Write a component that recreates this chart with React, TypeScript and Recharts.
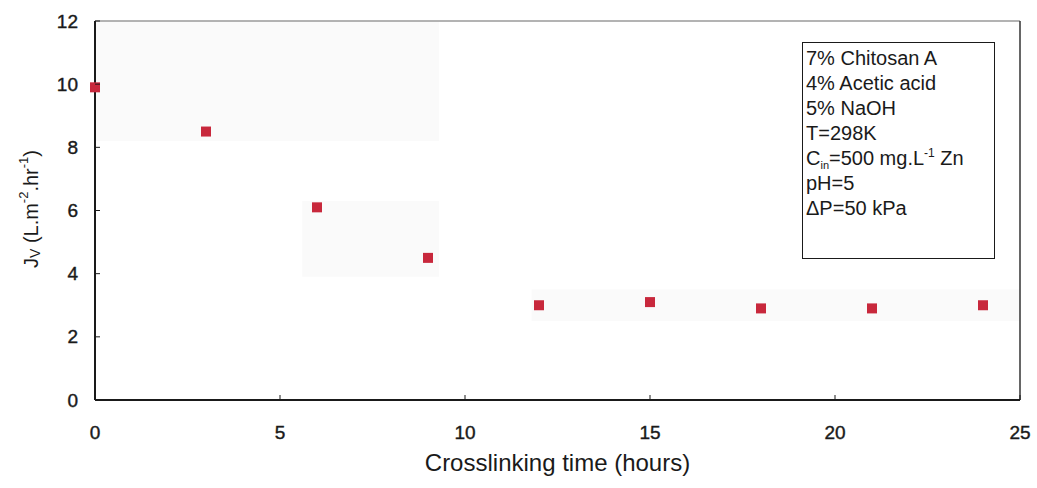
import { ScatterChart, Scatter, XAxis, YAxis, ReferenceLine, ReferenceArea } from 'recharts';

const hours = [0, 3, 6, 9, 12, 15, 18, 21, 24];
const flux = [9.9, 8.5, 6.1, 4.5, 3.0, 3.1, 2.9, 2.9, 3.0];
const xTicks = [0, 5, 10, 15, 20, 25];
const yTicks = [0, 2, 4, 6, 8, 10, 12];
const conditions = [
  '7% Chitosan A',
  '4% Acetic acid',
  '5% NaOH',
  'T=298K',
  'C_in=500 mg.L^-1 Zn',
  'pH=5',
  'ΔP=50 kPa',
];

const data = hours.map((h, i) => ({ h, jv: flux[i] }));

const font = '"Liberation Sans", Arial, sans-serif';
const ink = '#1a1a1a';

// splits "C_in" / "L^-1" into sub and superscript pieces without growing the line box
function richLine(s: string) {
  const parts = s.split(/(_\w+|\^-?\d+)/).filter(Boolean);
  return parts.map((p, i) => {
    if (p.startsWith('_'))
      return <span key={i} style={{ fontSize: 11, position: 'relative', top: 4, lineHeight: 0 }}>{p.slice(1)}</span>;
    if (p.startsWith('^'))
      return <span key={i} style={{ fontSize: 12, position: 'relative', top: -8, lineHeight: 0 }}>{p.slice(1)}</span>;
    return <span key={i}>{p}</span>;
  });
}

const YTick = (props: any) => {
  const { x, y, payload } = props;
  return (
    <g>
      <line x1={x + 17} x2={x + 22} y1={y} y2={y} stroke={ink} strokeWidth={1} />
      <text x={x} y={y} textAnchor="end" dominantBaseline="central" fill={ink} stroke={ink} strokeWidth={0.4} fontSize={19} fontFamily={font}>
        {payload.value}
      </text>
    </g>
  );
};

const XTick = (props: any) => {
  const { x, y, payload } = props;
  return (
    <g>
      <line x1={x} x2={x} y1={y - 26} y2={y - 31} stroke={ink} strokeWidth={1} />
      <text x={x} y={y} dy="0.71em" textAnchor="middle" fill={ink} stroke={ink} strokeWidth={0.4} fontSize={19} fontFamily={font}>
        {payload.value}
      </text>
    </g>
  );
};

const Square = (props: any) => {
  const { cx, cy } = props;
  return <rect x={cx - 5} y={cy - 5} width={10} height={10} fill="#c8283c" />;
};

const YLabel = () => (
  <text
    x={31}
    y={209}
    transform="rotate(-90, 31, 209)"
    textAnchor="middle"
    dominantBaseline="central"
    fill={ink}
    fontSize={20}
    fontFamily={font}
  >
    J
    <tspan fontSize={14} dy={4}>V</tspan>
    <tspan dy={-4}> (L.m</tspan>
    <tspan fontSize={13} dy={-8}>-2</tspan>
    <tspan dy={8}>.hr</tspan>
    <tspan fontSize={13} dy={-8}>-1</tspan>
    <tspan dy={8}>)</tspan>
  </text>
);

export default function App() {
  return (
    <div style={{ position: 'absolute', left: 0, top: 0, width: 1037, height: 488, background: '#fff' }}>
      <ScatterChart width={1037} height={488} margin={{ top: 21, right: 17, bottom: 48, left: 35 }}>
        <ReferenceArea x1={0} x2={9.3} y1={8.2} y2={12} fill="#fafafa" fillOpacity={1} stroke="none" />
        <ReferenceArea x1={5.6} x2={9.3} y1={3.9} y2={6.3} fill="#fafafa" fillOpacity={1} stroke="none" />
        <ReferenceArea x1={11.8} x2={25} y1={2.5} y2={3.5} fill="#fafafa" fillOpacity={1} stroke="none" />
        <XAxis
          type="number"
          dataKey="h"
          domain={[0, 25]}
          ticks={xTicks}
          interval={0}
          height={40}
          tickSize={0}
          tickMargin={26}
          tickLine={false}
          axisLine={{ stroke: ink, strokeWidth: 2 }}
          tick={<XTick />}
          label={{
            value: 'Crosslinking time (hours)',
            position: 'bottom',
            offset: 14,
            fill: ink,
            fontSize: 24,
            fontFamily: font,
          }}
        />
        <YAxis
          type="number"
          dataKey="jv"
          domain={[0, 12]}
          ticks={yTicks}
          interval={0}
          width={60}
          tickSize={0}
          tickMargin={17}
          tickLine={false}
          axisLine={{ stroke: ink, strokeWidth: 2 }}
          tick={<YTick />}
          label={<YLabel />}
        />
        <ReferenceLine y={12} stroke="#9a9a9a" strokeWidth={1.5} />
        <ReferenceLine x={25} stroke="#333" strokeWidth={1.5} />
        <Scatter data={data} shape={<Square />} isAnimationActive={false} />
      </ScatterChart>
      <div
        style={{
          position: 'absolute',
          left: 802,
          top: 42,
          width: 188,
          height: 212,
          border: `1.5px solid ${ink}`,
          padding: '3px 0 0 3px',
          fontFamily: font,
          fontSize: 20,
          lineHeight: '25px',
          color: ink,
          background: '#fff',
          boxSizing: 'content-box',
        }}
      >
        {conditions.map((c, i) => (
          <div key={i} style={{ whiteSpace: 'nowrap', height: 25 }}>{richLine(c)}</div>
        ))}
      </div>
    </div>
  );
}
